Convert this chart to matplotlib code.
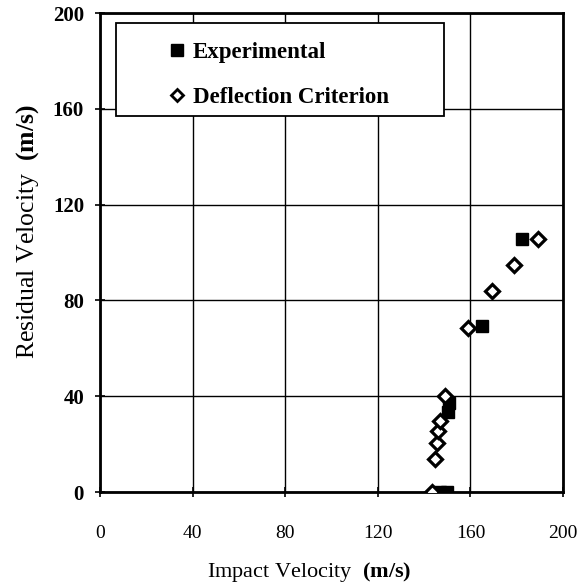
import matplotlib
matplotlib.use('Agg')
import matplotlib.pyplot as plt
from matplotlib.lines import Line2D
from matplotlib.patches import Rectangle

plt.rcParams['font.family'] = ['Liberation Serif', 'DejaVu Serif']
plt.rcParams['mathtext.fontset'] = 'custom'
plt.rcParams['mathtext.rm'] = 'Liberation Serif'
plt.rcParams['mathtext.bf'] = 'Liberation Serif:bold'

# data
exp_impact = [146.9, 149.7, 150.5, 150.8, 165.0, 182.3]
exp_residual = [0.0, 0.0, 33.5, 37.0, 69.5, 105.5]

defl_impact = [143.3, 144.7, 145.4, 146.2, 146.9, 149.0, 158.9, 169.2, 178.8, 189.3]
defl_residual = [0.0, 13.8, 20.3, 25.6, 29.8, 40.0, 68.3, 84.0, 95.0, 105.5]

ticks = [0, 40, 80, 120, 160, 200]

fig = plt.figure(figsize=(5.79, 5.87), dpi=100)
ax = fig.add_axes([0.1727, 0.1618, 0.7997, 0.8160])

ax.grid(True, color='black', linewidth=1.0)
ax.set_axisbelow(True)

ax.plot(exp_impact, exp_residual, linestyle='none', marker='s', markersize=9,
        color='black', zorder=3)
ax.plot(defl_impact, defl_residual, linestyle='none', marker='D', markersize=7.5,
        markerfacecolor='white', markeredgecolor='black', markeredgewidth=2.3, zorder=4)

ax.set_xlim(0, 200)
ax.set_ylim(0, 200)
ax.set_xticks(ticks)
ax.set_yticks(ticks)
ax.tick_params(direction='inout', length=7, width=1.2)
ax.tick_params(axis='x', labelsize=14, pad=20)
ax.tick_params(axis='y', labelsize=15, pad=8)
for lab in ax.get_yticklabels():
    lab.set_fontweight('bold')
for s in ax.spines.values():
    s.set_linewidth(2)

ax.set_xlabel(r'Impact Velocity  $\mathbf{(m/s)}$', fontsize=16)
ax.set_ylabel(r'Residual Velocity  $\mathbf{(m/s)}$', fontsize=18.5)
ax.xaxis.set_label_coords(0.451, -0.142)
ax.yaxis.set_label_coords(-0.128, 0.543)

# legend box drawn separately, handles sit indented inside it
box = Rectangle((0.0346, 0.785), 0.7084, 0.194, transform=ax.transAxes,
                facecolor='white', edgecolor='black', linewidth=1.3, zorder=5)
ax.add_patch(box)

handles = [
    Line2D([], [], linestyle='none', marker='s', markersize=8, color='black'),
    Line2D([], [], linestyle='none', marker='D', markersize=6, markerfacecolor='white',
           markeredgecolor='black', markeredgewidth=2),
]
leg = ax.legend(handles, ['Experimental', 'Deflection Criterion'],
                loc='upper left', bbox_to_anchor=(0.149, 0.9395), frameon=False,
                handlelength=0.7, handletextpad=0.35, borderpad=0,
                labelspacing=1.05, borderaxespad=0,
                prop={'weight': 'bold', 'size': 16.5})
leg.set_zorder(6)

fig.savefig('out.png', dpi=100)
